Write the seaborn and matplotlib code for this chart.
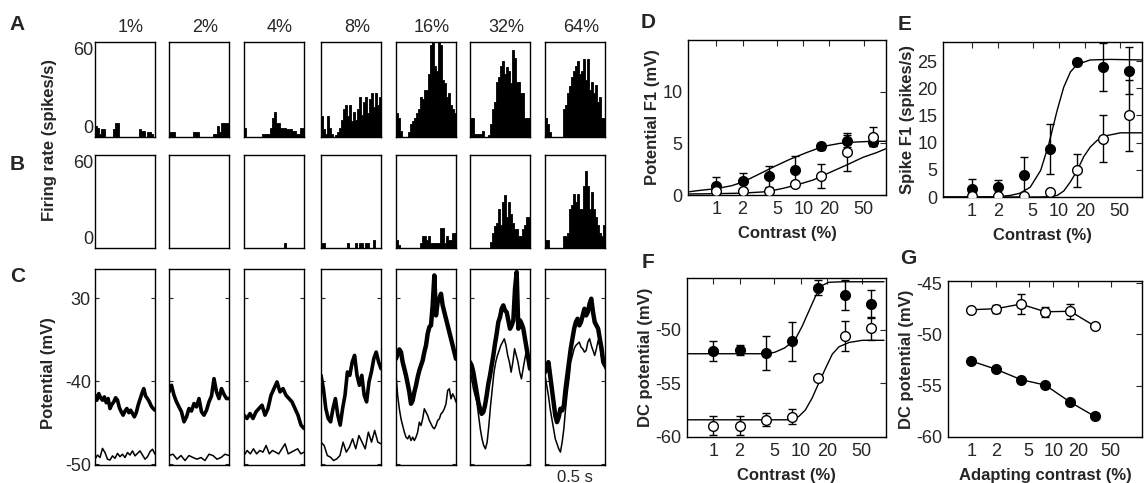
import numpy as np
import matplotlib
matplotlib.use("Agg")
import matplotlib.pyplot as plt
from matplotlib.ticker import NullLocator
import seaborn as sns

sns.set_style("white")
plt.rcParams['font.family'] = ['Liberation Sans', 'DejaVu Sans']

W, H = 1144, 483

# ---------------- data ----------------
contrast_labels = ["1%", "2%", "4%", "8%", "16%", "32%", "64%"]

# PSTHs (spikes/s), 30 bins per panel ; A = before adaptation, B = after
hist_A1 = [7, 6, 2, 5, 5, 0, 0, 0, 0, 5, 9, 9, 0, 0, 0, 0, 0, 0, 0, 0, 0, 0, 5, 4, 4, 0, 3, 3, 2, 0]
hist_A2 = [3, 3, 3, 0, 0, 0, 0, 0, 0, 0, 0, 0, 3, 3, 3, 0, 0, 0, 0, 0, 0, 0, 2, 2, 7, 3, 9, 9, 9, 9]
hist_A3 = [6, 0, 0, 0, 0, 0, 0, 0, 0, 2, 2, 2, 2, 6, 12, 16, 9, 9, 6, 6, 6, 5, 5, 5, 4, 4, 2, 2, 6, 6]
hist_A4 = [13, 5, 2, 13, 6, 2, 0, 1, 3, 6, 11, 18, 20, 13, 20, 10, 16, 11, 18, 25, 14, 22, 25, 15, 24, 28, 19, 28, 20, 25]
hist_A5 = [15, 12, 4, 0, 0, 0, 3, 8, 10, 12, 15, 18, 25, 24, 30, 30, 40, 58, 60, 45, 42, 60, 58, 36, 34, 25, 28, 20, 18, 15]
hist_A6 = [12, 12, 2, 2, 2, 2, 4, 0, 0, 1, 8, 18, 22, 35, 38, 45, 48, 40, 44, 42, 34, 55, 50, 35, 35, 28, 28, 12, 12, 12]
hist_A7 = [12, 8, 3, 0, 0, 0, 0, 0, 0, 18, 20, 28, 32, 38, 42, 45, 48, 40, 42, 49, 36, 49, 30, 35, 28, 33, 22, 25, 12, 12]
hist_B1 = [0] * 30
hist_B2 = [0] * 30
hist_B3 = [0, 0, 0, 0, 0, 0, 0, 0, 0, 0, 0, 0, 0, 0, 0, 0, 0, 0, 0, 0, 3, 0, 0, 0, 0, 0, 0, 0, 0, 0]
hist_B4 = [3, 3, 0, 0, 0, 0, 0, 0, 0, 0, 0, 0, 0, 3, 0, 0, 0, 3, 0, 3, 3, 0, 3, 3, 0, 0, 5, 0, 0, 0]
hist_B5 = [5, 2, 0, 0, 0, 0, 0, 0, 0, 0, 0, 0, 3, 8, 8, 5, 8, 3, 3, 3, 3, 3, 13, 13, 3, 8, 5, 5, 10, 10]
hist_B6 = [0, 0, 0, 0, 0, 0, 0, 0, 0, 0, 4, 10, 14, 16, 25, 15, 30, 34, 20, 30, 22, 16, 12, 12, 8, 8, 12, 15, 20, 20]
hist_B7 = [5, 5, 0, 0, 0, 0, 0, 0, 0, 8, 8, 10, 25, 28, 35, 30, 35, 25, 25, 40, 50, 40, 25, 36, 25, 20, 15, 10, 8, 15]

# membrane potential traces (mV): before (thick) and after (thin) adaptation
trace_up1 = [-41.7, -42.3, -41.5, -42.0, -42.3, -41.9, -42.6, -42.1, -43.3, -42.8, -42.5, -42.0, -42.3, -43.2, -43.7,
             -44.1, -43.6, -43.3, -43.8, -43.5, -43.9, -44.3, -43.8, -42.9, -42.2, -41.5, -40.9, -41.8, -42.1, -42.5,
             -43.0, -43.3, -43.5]
trace_lo1 = [-49.4, -48.9, -49.2, -48.1, -48.6, -49.4, -49.5, -49.0, -49.3, -48.7, -49.1, -48.8, -49.2, -48.6, -48.9,
             -48.4, -49.0, -48.7, -48.4, -48.9, -49.4, -49.1, -48.5, -48.2, -48.8]
trace_up2 = [-41.3, -40.5, -41.7, -42.5, -43.1, -43.7, -44.9, -44.3, -43.3, -43.6, -42.7, -43.1, -42.1, -43.7, -44.1,
             -43.5, -42.5, -41.8, -39.7, -41.3, -42.1, -40.9, -41.6, -42.1, -42.1]
trace_lo2 = [-48.96, -48.8, -49.4, -48.96, -49.56, -48.96, -49.2, -49.4, -49.2, -49.56, -48.8, -48.96, -49.4, -49.2,
             -48.8, -48.96]
trace_up3 = [-44.1, -44.5, -43.9, -44.5, -43.7, -43.3, -42.9, -44.1, -43.3, -41.7, -40.9, -40.1, -41.3, -40.9, -41.7,
             -42.1, -42.5, -43.3, -44.1, -45.3, -45.7]
trace_lo3 = [-48.96, -48.35, -48.76, -48.15, -48.76, -48.35, -48.55, -47.75, -48.76, -48.35, -48.55, -48.76, -48.15,
             -47.55, -48.76, -48.55, -48.35, -48.15, -48.76, -48.55]
trace_up4 = [-39.3, -40.9, -43.3, -44.5, -44.9, -43.3, -42.1, -44.1, -45.3, -43.3, -41.7, -38.9, -39.3, -37.7, -36.9,
             -39.3, -40.5, -39.3, -41.7, -42.5, -40.1, -38.9, -37.3, -36.5, -37.7, -38.5]
trace_lo4 = [-47.35, -47.75, -48.96, -49.16, -49.56, -49.36, -48.96, -47.35, -48.55, -47.95, -46.95, -48.15, -46.55,
             -47.35, -48.15, -46.14, -47.35, -45.94, -47.35, -47.55]
trace_up5 = [-37.31, -36.71, -36.18, -36.51, -37.71, -38.51, -39.32, -40.32, -41.33, -42.73, -42.33, -41.33, -40.52,
             -39.52, -38.72, -38.11, -37.51, -36.51, -35.70, -34.30, -33.49, -33.29, -30.88, -27.27, -32.09, -30.48,
             -30.08, -29.48, -30.88, -31.69, -32.49, -33.29, -34.10, -34.90, -35.70, -36.51, -37.31]
trace_lo5 = [-39.32, -41.73, -43.33, -44.54, -45.34, -46.14, -46.75, -46.95, -46.55, -47.15, -46.75, -47.15, -46.75,
             -46.14, -44.94, -45.34, -44.54, -43.33, -43.73, -44.14, -44.74, -45.14, -45.54, -45.74, -45.34, -44.74,
             -44.54, -43.94, -43.73, -43.33, -42.73, -41.13, -40.92, -42.13, -41.53, -41.93, -42.53]
trace_up6 = [-37.71, -38.11, -38.92, -40.12, -41.33, -42.53, -43.33, -43.94, -43.73, -42.93, -41.73, -40.32, -39.32,
             -38.11, -36.91, -35.50, -34.30, -32.89, -32.29, -31.29, -30.88, -31.49, -31.69, -32.69, -33.69, -33.29,
             -32.69, -28.88, -26.87, -33.69, -32.69, -33.09, -33.69, -34.90, -36.10, -37.31, -38.51]
trace_lo6 = [-38.51, -39.72, -40.92, -41.73, -42.53, -44.14, -45.74, -46.95, -47.75, -48.15, -47.35, -45.34, -42.93,
             -40.92, -38.92, -37.71, -36.91, -36.31, -35.70, -35.30, -34.90, -35.70, -36.91, -37.71, -38.92, -37.71,
             -36.10, -36.91, -37.71, -38.92, -39.72, -38.51, -37.31, -36.31, -36.91, -38.11]
trace_up7 = [-38.92, -38.11, -37.71, -39.32, -40.92, -42.53, -44.14, -44.94, -44.34, -43.33, -43.53, -42.93, -40.92,
             -39.32, -37.71, -36.10, -34.90, -33.69, -32.89, -32.49, -33.29, -32.89, -32.09, -31.29, -32.09, -31.69,
             -30.68, -30.08, -31.69, -32.89, -33.29, -33.69, -34.90, -36.10, -37.71, -38.11]
trace_lo7 = [-39.32, -40.52, -41.73, -43.33, -44.54, -45.74, -46.95, -47.55, -48.15, -48.55, -47.35, -45.74, -43.33,
             -41.33, -39.72, -37.71, -36.91, -36.10, -35.70, -35.50, -35.30, -35.90, -36.10, -36.51, -36.31, -35.30,
             -34.90, -35.70, -36.31, -36.91, -36.10, -35.10, -35.70, -37.11, -37.71, -38.51]

# D, E, F: responses vs test contrast (before = filled, after = open)
test_contrast = [1, 2, 4, 8, 16, 32, 64]
D_filled = [0.85, 1.4, 1.8, 2.4, 4.7, 5.2, 5.1]
D_filled_err = [0.9, 0.7, 1.0, 1.35, 0.3, 0.6, 0.4]
D_open = [0.35, 0.4, 0.35, 1.05, 1.85, 4.15, 5.65]
D_open_err = [0.15, 0.15, 0.1, 0.1, 1.15, 1.85, 0.9]
D_fit_c = [0.49, 0.65, 1.0, 1.5, 2.0, 2.9, 4.5, 7.0, 10.9, 17, 26.5, 41, 64, 91]
D_fit_filled = [0.32, 0.45, 0.62, 0.9, 1.25, 1.9, 2.7, 3.45, 4.1, 4.7, 5.0, 5.13, 5.2, 5.2]
D_fit_c2 = [0.49, 1.0, 2.0, 3.8, 5.9, 8.4, 13, 20, 31.6, 49, 70, 91]
D_fit_open = [0.1, 0.13, 0.18, 0.32, 0.65, 0.97, 1.45, 2.16, 2.9, 3.65, 4.1, 4.5]

E_filled = [1.5, 1.8, 4.0, 8.8, 24.8, 23.9, 23.2]
E_filled_err = [1.9, 1.4, 3.4, 4.6, 0.5, 4.4, 4.3]
E_open = [0.1, 0.1, 0.2, 1.0, 4.9, 10.7, 15.0]
E_open_err = [0.0, 0.0, 0.0, 0.0, 3.0, 4.3, 6.5]
E_fit_c = [0.47, 1.0, 2.0, 2.8, 3.6, 4.7, 6.2, 7.7, 9.6, 11.4, 13.6, 16.3, 23, 39, 90]
E_fit_filled = [0.0, 0.0, 0.05, 0.3, 0.7, 1.8, 4.9, 9.8, 16.0, 20.2, 23.0, 24.4, 25.2, 25.3, 25.2]
E_fit_c2 = [0.47, 2.0, 6.0, 8.0, 9.6, 11.4, 13.6, 16.3, 19.3, 23, 27.5, 35.8, 51, 90]
E_fit_open = [0.0, 0.0, 0.0, 0.05, 0.3, 1.1, 2.8, 4.9, 7.4, 9.2, 10.4, 11.3, 11.8, 11.8]

F_filled = [-52.0, -51.9, -52.2, -51.1, -46.1, -46.8, -47.6]
F_filled_err = [0.9, 0.5, 1.6, 1.8, 0.7, 1.4, 1.3]
F_open = [-58.95, -58.95, -58.4, -58.1, -54.5, -50.6, -49.9]
F_open_err = [0.9, 0.9, 0.6, 0.7, 0.0, 1.4, 1.1]
F_fit_c = [0.47, 2.0, 4.3, 5.1, 6.6, 8.7, 10.4, 12.4, 14.8, 17.6, 21, 30, 90]
F_fit_filled = [-52.25, -52.25, -52.25, -52.1, -51.7, -50.9, -49.7, -48.3, -46.9, -45.9, -45.6, -45.55, -45.55]
F_fit_c2 = [0.47, 4.0, 7.9, 9.5, 11.3, 13.5, 16.1, 19.3, 23, 27.5, 35.9, 51, 90]
F_fit_open = [-58.4, -58.4, -58.4, -58.1, -57.5, -56.4, -55.0, -53.6, -52.3, -51.6, -51.2, -51.0, -51.0]

# G: DC potential vs adapting contrast
adapt_contrast = [1, 2, 4, 8, 16, 32]
G_open = [-47.6, -47.5, -47.05, -47.8, -47.75, -49.2]
G_open_err = [0.1, 0.4, 0.95, 0.5, 0.75, 0.1]
G_filled = [-52.6, -53.4, -54.4, -54.95, -56.6, -58.0]

log_ticks = [1, 2, 5, 10, 20, 50]

# ---------------- figure ----------------
fig = plt.figure(figsize=(W / 100, H / 100), dpi=100)


def rect(l, t, r, b):
    return [l / W, 1 - b / H, (r - l) / W, (b - t) / H]


col_left = [95, 169, 244, 321, 396, 470, 545]
col_w = 60
hists_A = [hist_A1, hist_A2, hist_A3, hist_A4, hist_A5, hist_A6, hist_A7]
hists_B = [hist_B1, hist_B2, hist_B3, hist_B4, hist_B5, hist_B6, hist_B7]
traces_up = [trace_up1, trace_up2, trace_up3, trace_up4, trace_up5, trace_up6, trace_up7]
traces_lo = [trace_lo1, trace_lo2, trace_lo3, trace_lo4, trace_lo5, trace_lo6, trace_lo7]

TICKFS = 13
LABFS = 12


def draw_hist(ax, vals):
    n = len(vals)
    centers = (np.arange(n) + 0.5) / n
    if sum(vals) > 0:
        sns.histplot(x=centers, weights=vals, bins=n, binrange=(0, 1), element="step", fill=True,
                     color="black", edgecolor="black", linewidth=0.6, alpha=1, ax=ax)
    ax.set_xlim(0, 1)
    ax.set_ylim(0, 60)
    ax.set_xlabel("")
    ax.set_ylabel("")
    ax.set_xticks([])
    ax.tick_params(axis="y", length=0, labelsize=TICKFS, pad=1)
    for s in ax.spines.values():
        s.set_linewidth(1.0)
        s.set_color("black")
        s.set_zorder(5)


for i in range(7):
    l = col_left[i]
    axA = fig.add_axes(rect(l, 42, l + col_w, 137))
    draw_hist(axA, hists_A[i])
    axB = fig.add_axes(rect(l, 155, l + col_w, 248))
    draw_hist(axB, hists_B[i])
    for ax in (axA, axB):
        if i == 0:
            ax.set_yticks([0, 60])
            ax.set_yticklabels(["0", "60"])
            ax.get_yticklabels()[1].set_va("top")
            ax.get_yticklabels()[0].set_va("bottom")
        else:
            ax.set_yticks([])
    fig.text((l + col_w * 0.6) / W, 1 - 27 / H, contrast_labels[i], ha="center", va="center", fontsize=13)

    axC = fig.add_axes(rect(l, 269, l + col_w, 465))
    up = traces_up[i]
    lo = traces_lo[i]
    sns.lineplot(x=np.linspace(0, 0.5, len(up)), y=up, ax=axC, color="black", lw=3.2 if i >= 4 else 2.6,
                 estimator=None, sort=False)
    sns.lineplot(x=np.linspace(0, 0.5, len(lo)), y=lo, ax=axC, color="black", lw=1.1, estimator=None, sort=False)
    axC.set_xlim(0, 0.5)
    axC.set_ylim(-50.1, -26.5)
    axC.set_xticks([])
    axC.set_yticks([-50, -40, -30])
    axC.tick_params(axis="y", direction="in", left=True, right=True, length=3, width=0.8, labelsize=TICKFS, pad=3)
    if i == 0:
        axC.set_yticklabels(["-50", "-40", "30"])
    else:
        axC.set_yticklabels([])
    for s in axC.spines.values():
        s.set_linewidth(1.0)
        s.set_color("black")

fig.text(575 / W, 1 - 470 / H, "0.5 s", ha="center", va="top", fontsize=12)

fig.text(50 / W, 1 - 140 / H, "Firing rate (spikes/s)", rotation=90, ha="center", va="center",
         fontsize=LABFS, fontweight="bold")
fig.text(48 / W, 1 - 373 / H, "Potential (mV)", rotation=90, ha="center", va="center",
         fontsize=LABFS, fontweight="bold")

for letter, (x, y) in {"A": (17, 25), "B": (17, 165), "C": (18, 277), "D": (648, 23), "E": (905, 25),
                       "F": (648, 263), "G": (908, 258)}.items():
    fig.text(x / W, 1 - y / H, letter, ha="center", va="center", fontsize=15, fontweight="bold")


def style_right(ax, xlim, ylim, yticks, xlabel, ylabel):
    ax.set_xscale("log")
    ax.set_xlim(*xlim)
    ax.set_ylim(*ylim)
    ax.set_xticks(log_ticks)
    ax.set_xticklabels([str(v) for v in log_ticks])
    ax.xaxis.set_minor_locator(NullLocator())
    ax.set_yticks(yticks)
    ax.set_yticklabels([str(v) for v in yticks])
    ax.tick_params(direction="in", top=True, right=True, length=4, width=0.8, labelsize=TICKFS, pad=4)
    ax.set_xlabel(xlabel, fontsize=LABFS, fontweight="bold", labelpad=6)
    ax.set_ylabel(ylabel, fontsize=LABFS, fontweight="bold", labelpad=2)
    for s in ax.spines.values():
        s.set_linewidth(1.0)
        s.set_color("black")


def points(ax, x, y, err, filled):
    ax.errorbar(x, y, yerr=err, fmt="o", color="black", ecolor="black", mfc="black" if filled else "white",
                mec="black", ms=7, mew=1.0, capsize=3, elinewidth=1.0, capthick=1.0, zorder=4)


# D
axD = fig.add_axes(rect(688, 40, 886, 195))
sns.lineplot(x=D_fit_c, y=D_fit_filled, ax=axD, color="black", lw=1.0, estimator=None, sort=False)
sns.lineplot(x=D_fit_c2, y=D_fit_open, ax=axD, color="black", lw=1.0, estimator=None, sort=False)
points(axD, test_contrast, D_filled, D_filled_err, True)
points(axD, test_contrast, D_open, D_open_err, False)
style_right(axD, (0.47, 90), (0, 15), [0, 5, 10], "Contrast (%)", "Potential F1 (mV)")

# E
axE = fig.add_axes(rect(943, 42, 1142, 197))
sns.lineplot(x=E_fit_c, y=E_fit_filled, ax=axE, color="black", lw=1.0, estimator=None, sort=False)
sns.lineplot(x=E_fit_c2, y=E_fit_open, ax=axE, color="black", lw=1.0, estimator=None, sort=False)
points(axE, test_contrast, E_filled, E_filled_err, True)
points(axE, test_contrast, E_open, E_open_err, False)
style_right(axE, (0.47, 90), (0, 28.5), [0, 5, 10, 15, 20, 25], "Contrast (%)", "Spike F1 (spikes/s)")

# F
axF = fig.add_axes(rect(687, 278, 886, 437))
sns.lineplot(x=F_fit_c, y=F_fit_filled, ax=axF, color="black", lw=1.0, estimator=None, sort=False)
sns.lineplot(x=F_fit_c2, y=F_fit_open, ax=axF, color="black", lw=1.0, estimator=None, sort=False)
points(axF, test_contrast, F_filled, F_filled_err, True)
points(axF, test_contrast, F_open, F_open_err, False)
style_right(axF, (0.5, 95), (-60, -45.2), [-60, -55, -50], "Contrast (%)", "DC potential (mV)")

# G
axG = fig.add_axes(rect(948, 281, 1142, 437))
sns.lineplot(x=adapt_contrast, y=G_open, ax=axG, color="black", lw=1.0, estimator=None, sort=False)
sns.lineplot(x=adapt_contrast, y=G_filled, ax=axG, color="black", lw=1.0, estimator=None, sort=False)
points(axG, adapt_contrast, G_open, G_open_err, False)
axG.plot(adapt_contrast, G_filled, "o", color="black", ms=7, zorder=4)
style_right(axG, (0.52, 120), (-60, -44.8), [-60, -55, -50, -45], "Adapting contrast (%)", "DC potential (mV)")

fig.savefig("out.png", dpi=100)
